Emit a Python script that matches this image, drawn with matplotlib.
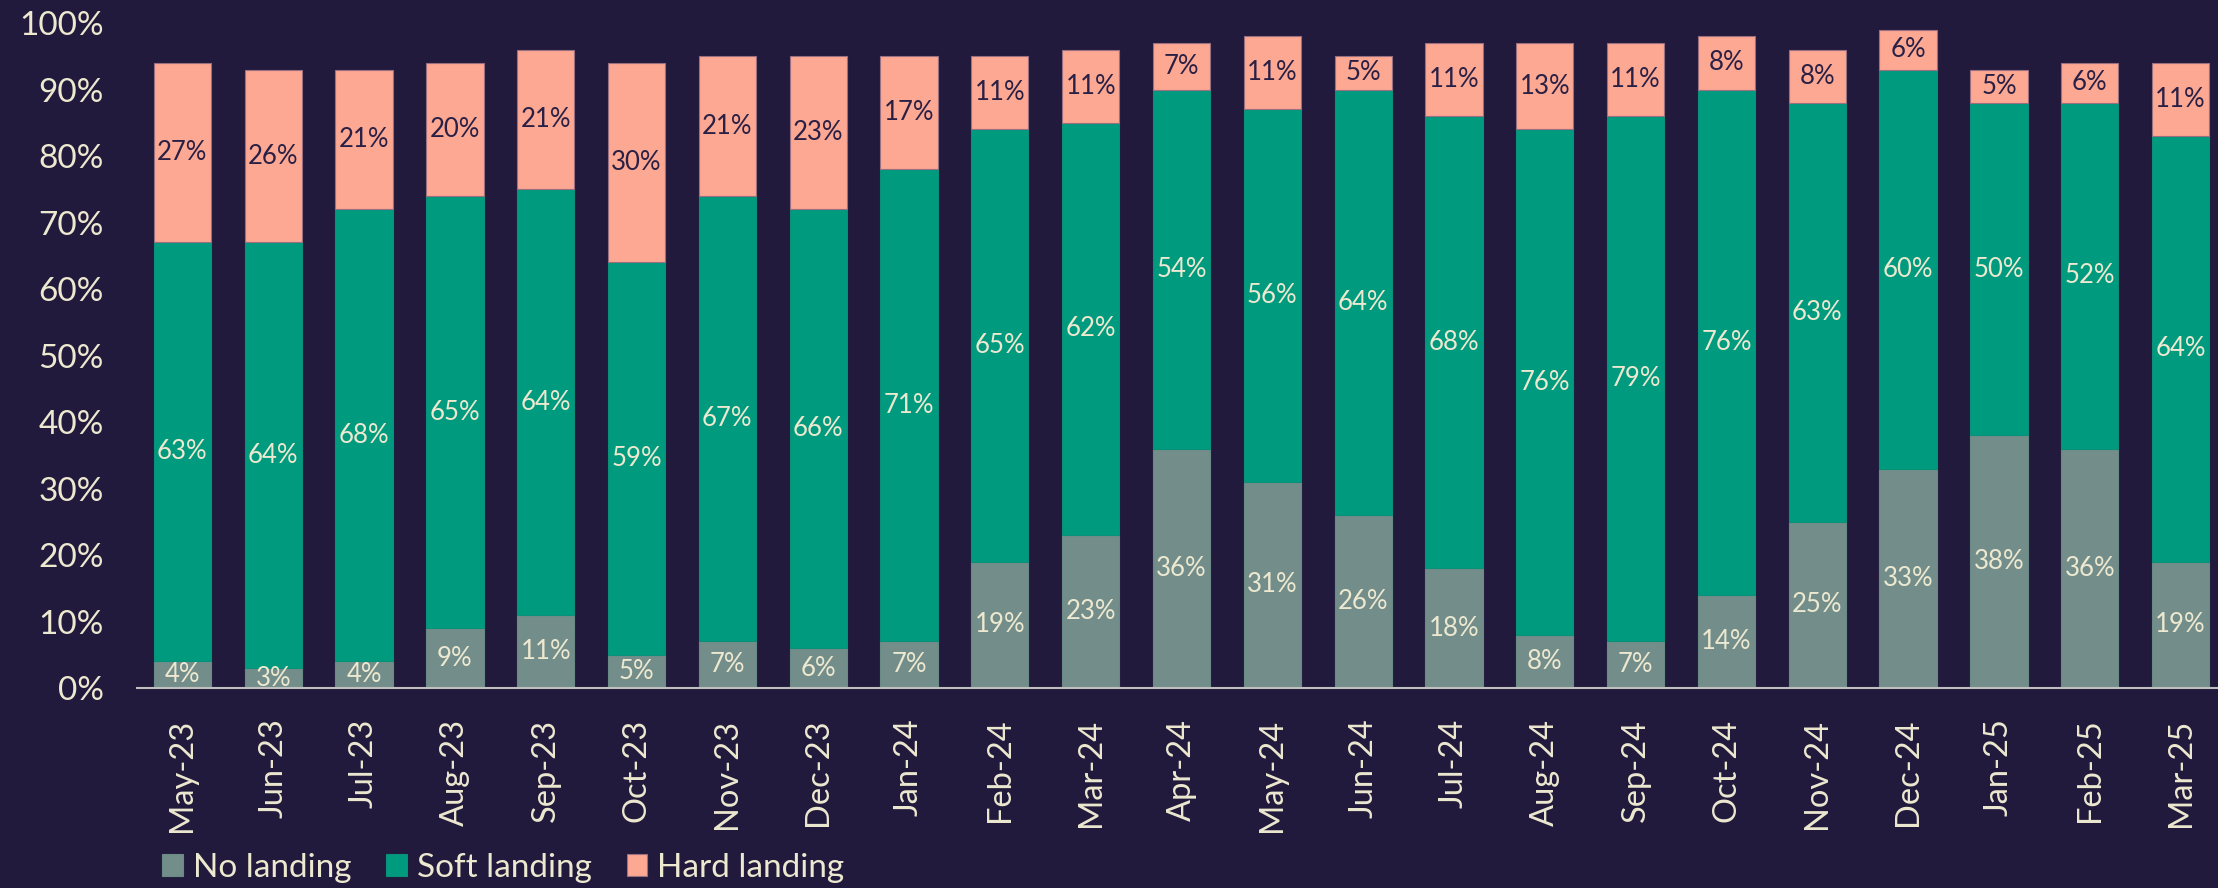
import matplotlib
matplotlib.use("Agg")
import matplotlib.pyplot as plt
import numpy as np

months = ["May-23", "Jun-23", "Jul-23", "Aug-23", "Sep-23", "Oct-23", "Nov-23", "Dec-23",
          "Jan-24", "Feb-24", "Mar-24", "Apr-24", "May-24", "Jun-24", "Jul-24", "Aug-24",
          "Sep-24", "Oct-24", "Nov-24", "Dec-24", "Jan-25", "Feb-25", "Mar-25"]
no_landing = [4, 3, 4, 9, 11, 5, 7, 6, 7, 19, 23, 36, 31, 26, 18, 8, 7, 14, 25, 33, 38, 36, 19]
soft_landing = [63, 64, 68, 65, 64, 59, 67, 66, 71, 65, 62, 54, 56, 64, 68, 76, 79, 76, 63, 60, 50, 52, 64]
hard_landing = [27, 26, 21, 20, 21, 30, 21, 23, 17, 11, 11, 7, 11, 5, 11, 13, 11, 8, 8, 6, 5, 6, 11]
yticks = [0, 10, 20, 30, 40, 50, 60, 70, 80, 90, 100]

BG = "#211a3c"
C_NO = "#738e8a"
C_SOFT = "#009b7f"
C_HARD = "#fca892"
TXT = "#ede8d0"
DARK = "#2a2045"
FONT = "Lato"

W, H = 2218, 888
fig = plt.figure(figsize=(W / 100, H / 100), dpi=100, facecolor=BG)
left, right, bottom, top = 137, 2226, 688, 23
ax = fig.add_axes([left / W, 1 - bottom / H, (right - left) / W, (bottom - top) / H])
ax.set_facecolor(BG)

x = np.arange(len(months))
bw = 0.63
no = np.array(no_landing)
soft = np.array(soft_landing)
hard = np.array(hard_landing)

b1 = ax.bar(x, no, bw, color=C_NO, edgecolor="#6a8a86", linewidth=0.8, label="No landing")
b2 = ax.bar(x, soft, bw, bottom=no, color=C_SOFT, edgecolor="#0a8f78", linewidth=0.8, label="Soft landing")
b3 = ax.bar(x, hard, bw, bottom=no + soft, color=C_HARD, edgecolor="#9a7080", linewidth=0.8, label="Hard landing")

fs_lab = 18.5
for i in range(len(months)):
    ax.text(x[i], no[i] / 2, f"{no[i]}%", ha="center", va="center", color=TXT,
            fontsize=fs_lab, family=FONT)
    ax.text(x[i], no[i] + soft[i] / 2, f"{soft[i]}%", ha="center", va="center", color=TXT,
            fontsize=fs_lab, family=FONT)
    ax.text(x[i], no[i] + soft[i] + hard[i] / 2, f"{hard[i]}%", ha="center", va="center",
            color=DARK, fontsize=fs_lab, family=FONT)

ax.set_xlim(-0.5, len(months) - 0.5)
ax.set_ylim(0, 100)
ax.set_yticks(yticks)
ax.set_yticklabels([f"{v}%" for v in yticks], fontsize=24, color=TXT, family=FONT)
ax.set_xticks(x)
ax.set_xticklabels(months, rotation=90, fontsize=23.5, color=TXT, family=FONT)
ax.tick_params(axis="both", length=0)
ax.tick_params(axis="y", pad=24)
ax.tick_params(axis="x", pad=22)
for s in ["top", "right", "left"]:
    ax.spines[s].set_visible(False)
ax.spines["bottom"].set_color("#bfbfbf")
ax.spines["bottom"].set_linewidth(1.5)

leg = fig.legend(handles=[b1, b2, b3], loc="center left", bbox_to_anchor=(162 / W, 1 - 868 / H),
                 ncol=3, frameon=False, handlelength=0.62, handleheight=0.62,
                 handletextpad=0.3, columnspacing=1.05, borderaxespad=0, borderpad=0,
                 prop={"family": FONT, "size": 24})
for t in leg.get_texts():
    t.set_color(TXT)

fig.savefig("out.png", dpi=100, facecolor=BG)
